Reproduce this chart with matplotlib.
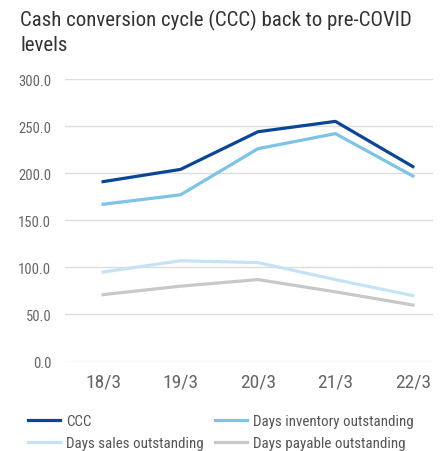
import matplotlib
matplotlib.use('Agg')
import matplotlib.pyplot as plt

plt.rcParams['font.family'] = ['Roboto Condensed', 'DejaVu Sans']

periods = ['18/3', '19/3', '20/3', '21/3', '22/3']
ccc = [191, 204, 244, 255, 207]
dio = [167, 177, 226, 242, 197]
dso = [95, 107, 105, 87, 70]
dpo = [71, 80, 87, 74, 60]
yticks = [0, 50, 100, 150, 200, 250, 300]

fig = plt.figure(figsize=(4.4, 4.52), dpi=100)
ax = fig.add_axes([0.148, 0.198, 0.836, 0.625])

x = range(len(periods))
l_ccc, = ax.plot(x, ccc, color='#0b4595', lw=2.3)
l_dio, = ax.plot(x, dio, color='#7cc3e5', lw=2.3)
l_dso, = ax.plot(x, dso, color='#c5e3f4', lw=2.3)
l_dpo, = ax.plot(x, dpo, color='#c8c8c8', lw=2.3)

ax.set_xlim(-0.49, 4.26)
ax.set_ylim(0, 300)
ax.set_yticks(yticks)
ax.set_yticklabels([f'{v:.1f}' for v in yticks], fontsize=10.5, color='#666666')
ax.set_xticks(list(x))
ax.set_xticklabels(periods, fontsize=14, color='#666666')
ax.tick_params(length=0)
ax.tick_params(axis='y', pad=10)
ax.tick_params(axis='x', pad=8)
ax.grid(axis='y', color='#dddddd', lw=1)
ax.set_axisbelow(True)
for s in ax.spines.values():
    s.set_visible(False)

fig.text(0.046, 0.977, 'Cash conversion cycle (CCC) back to pre-COVID\nlevels',
         fontsize=15, color='#333333', va='top', ha='left', linespacing=1.3)

leg_kw = dict(loc='upper left', frameon=False, fontsize=10.8, labelcolor='#555555',
              handlelength=2.15, handletextpad=0.4, labelspacing=0.5,
              borderaxespad=0, borderpad=0)
fig.legend([l_ccc, l_dso], ['CCC', 'Days sales outstanding'],
           bbox_to_anchor=(0.064, 0.081), **leg_kw)
fig.legend([l_dio, l_dpo], ['Days inventory outstanding', 'Days payable outstanding'],
           bbox_to_anchor=(0.489, 0.081), **leg_kw)

fig.savefig('out.png', dpi=100)
